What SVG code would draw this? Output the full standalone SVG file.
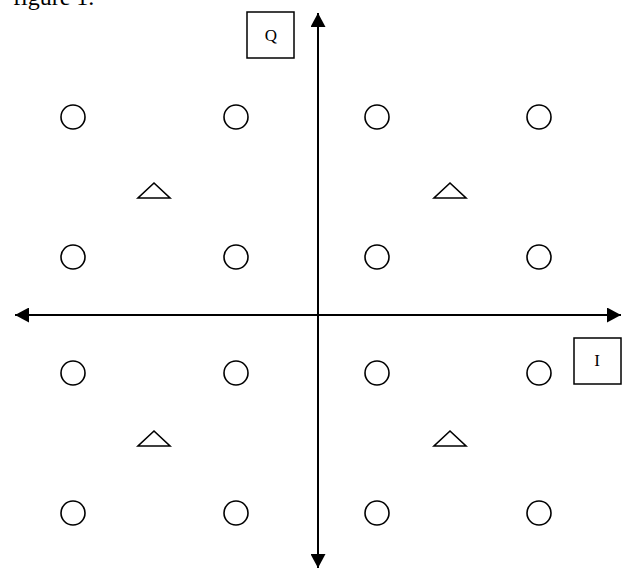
<svg xmlns="http://www.w3.org/2000/svg" width="622" height="570" viewBox="0 0 622 570">
<style>
.pt{fill:none;stroke:#000;stroke-width:1.6}
.box{fill:#fff;stroke:#000;stroke-width:1.5}
.ax{stroke:#000;stroke-width:2;fill:none}
.lbl{font-family:"Liberation Serif","Times New Roman",serif;font-size:17px;fill:#000;text-anchor:middle}
.cap{font-family:"Liberation Serif","Times New Roman",serif;font-size:24px;fill:#000}
</style>
<defs>
<marker id="ah" viewBox="0 0 14 15" refX="14" refY="7.5" markerWidth="14" markerHeight="15" markerUnits="userSpaceOnUse" orient="auto">
<path d="M0,0 L14,7.5 L0,15 Z" fill="#000"/>
</marker>
</defs>
<text class="cap" x="13" y="5">figure 1.</text>
<g id="connectors">
<line class="ax" x1="318" y1="315" x2="318" y2="13" marker-end="url(#ah)"/>
<line class="ax" x1="318" y1="315" x2="318" y2="568" marker-end="url(#ah)"/>
<line class="ax" x1="318" y1="315" x2="15" y2="315" marker-end="url(#ah)"/>
<line class="ax" x1="318" y1="315" x2="621" y2="315" marker-end="url(#ah)"/>
</g>
<g id="labelQ"><rect class="box" x="247" y="12" width="47" height="46"/><text class="lbl" x="271" y="41">Q</text></g>
<g id="labelI"><rect class="box" x="574" y="338" width="47" height="46"/><text class="lbl" x="597" y="366">I</text></g>
<g id="c11"><circle class="pt" cx="73" cy="117" r="12"/></g>
<g id="c12"><circle class="pt" cx="236" cy="117" r="12"/></g>
<g id="c13"><circle class="pt" cx="377" cy="117" r="12"/></g>
<g id="c14"><circle class="pt" cx="539" cy="117" r="12"/></g>
<g id="c21"><circle class="pt" cx="73" cy="257" r="12"/></g>
<g id="c22"><circle class="pt" cx="236" cy="257" r="12"/></g>
<g id="c23"><circle class="pt" cx="377" cy="257" r="12"/></g>
<g id="c24"><circle class="pt" cx="539" cy="257" r="12"/></g>
<g id="c31"><circle class="pt" cx="73" cy="373" r="12"/></g>
<g id="c32"><circle class="pt" cx="236" cy="373" r="12"/></g>
<g id="c33"><circle class="pt" cx="377" cy="373" r="12"/></g>
<g id="c34"><circle class="pt" cx="539" cy="373" r="12"/></g>
<g id="c41"><circle class="pt" cx="73" cy="513" r="12"/></g>
<g id="c42"><circle class="pt" cx="236" cy="513" r="12"/></g>
<g id="c43"><circle class="pt" cx="377" cy="513" r="12"/></g>
<g id="c44"><circle class="pt" cx="539" cy="513" r="12"/></g>
<g id="t1"><polygon class="pt" points="154,183 170,198 138,198"/></g>
<g id="t2"><polygon class="pt" points="450,183 466,198 434,198"/></g>
<g id="t3"><polygon class="pt" points="154,431 170,446 138,446"/></g>
<g id="t4"><polygon class="pt" points="450,431 466,446 434,446"/></g>
</svg>
